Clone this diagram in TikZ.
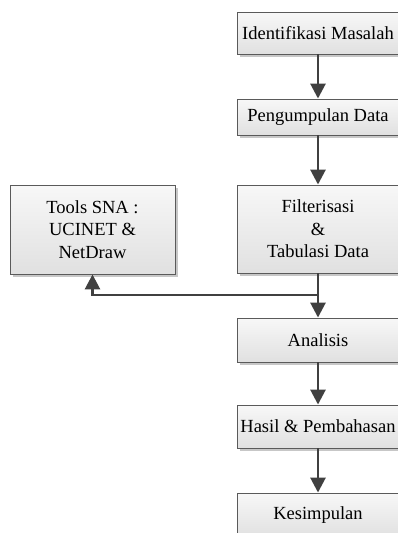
\documentclass[tikz,border=0pt]{standalone}
\usepackage{fontspec}
\setmainfont{Liberation Serif}
\usetikzlibrary{arrows.meta,shadows}
\definecolor{lineclr}{HTML}{404040}
\definecolor{edgeclr}{HTML}{5A5A5A}
\tikzset{
  flowbox/.style={rectangle, draw=edgeclr, line width=0.9pt,
    top color=white!97!black, bottom color=white!88!black,
    drop shadow={shadow xshift=2.5pt, shadow yshift=-2.5pt, fill=black!22, opacity=1},
    align=center, inner sep=0pt,
    font=\fontsize{18.5}{22.5}\selectfont},
  conn/.style={draw=lineclr, line width=2.8pt,
    -{Triangle[length=15pt,width=15pt]}, shorten >=0pt}
}
\begin{document}
\begin{tikzpicture}[x=1pt,y=-1pt]
\useasboundingbox (0,0) rectangle (398,533);
\clip (0,0) rectangle (398,533);
\node[flowbox, minimum width=162pt, minimum height=42pt] (b1) at (318,33) {Identifikasi Masalah};
\node[flowbox, minimum width=162pt, minimum height=36pt] (b2) at (318,117) {Pengumpulan Data};
\node[flowbox, minimum width=162pt, minimum height=88pt] (b3) at (318,229) {Filterisasi\\\&\\Tabulasi Data};
\node[flowbox, minimum width=162pt, minimum height=44pt] (b4) at (318,340) {Analisis};
\node[flowbox, minimum width=162pt, minimum height=43pt] (b5) at (318,426.5) {Hasil \& Pembahasan};
\node[flowbox, minimum width=162pt, minimum height=44pt] (b6) at (318,515) {Kesimpulan};
\node[flowbox, minimum width=165pt, minimum height=89pt] (tools) at (92.5,229.5) {Tools SNA :\\UCINET \&\\NetDraw};
\coordinate (j) at (318,295);
\draw[conn] (b1.south) -- (b2.north);
\draw[conn] (b2.south) -- (b3.north);
\draw[conn] (b3.south) -- (b4.north);
\draw[conn] (j) -| (tools.south);
\draw[conn] (b4.south) -- (b5.north);
\draw[conn] (b5.south) -- (b6.north);
\end{tikzpicture}
\end{document}
